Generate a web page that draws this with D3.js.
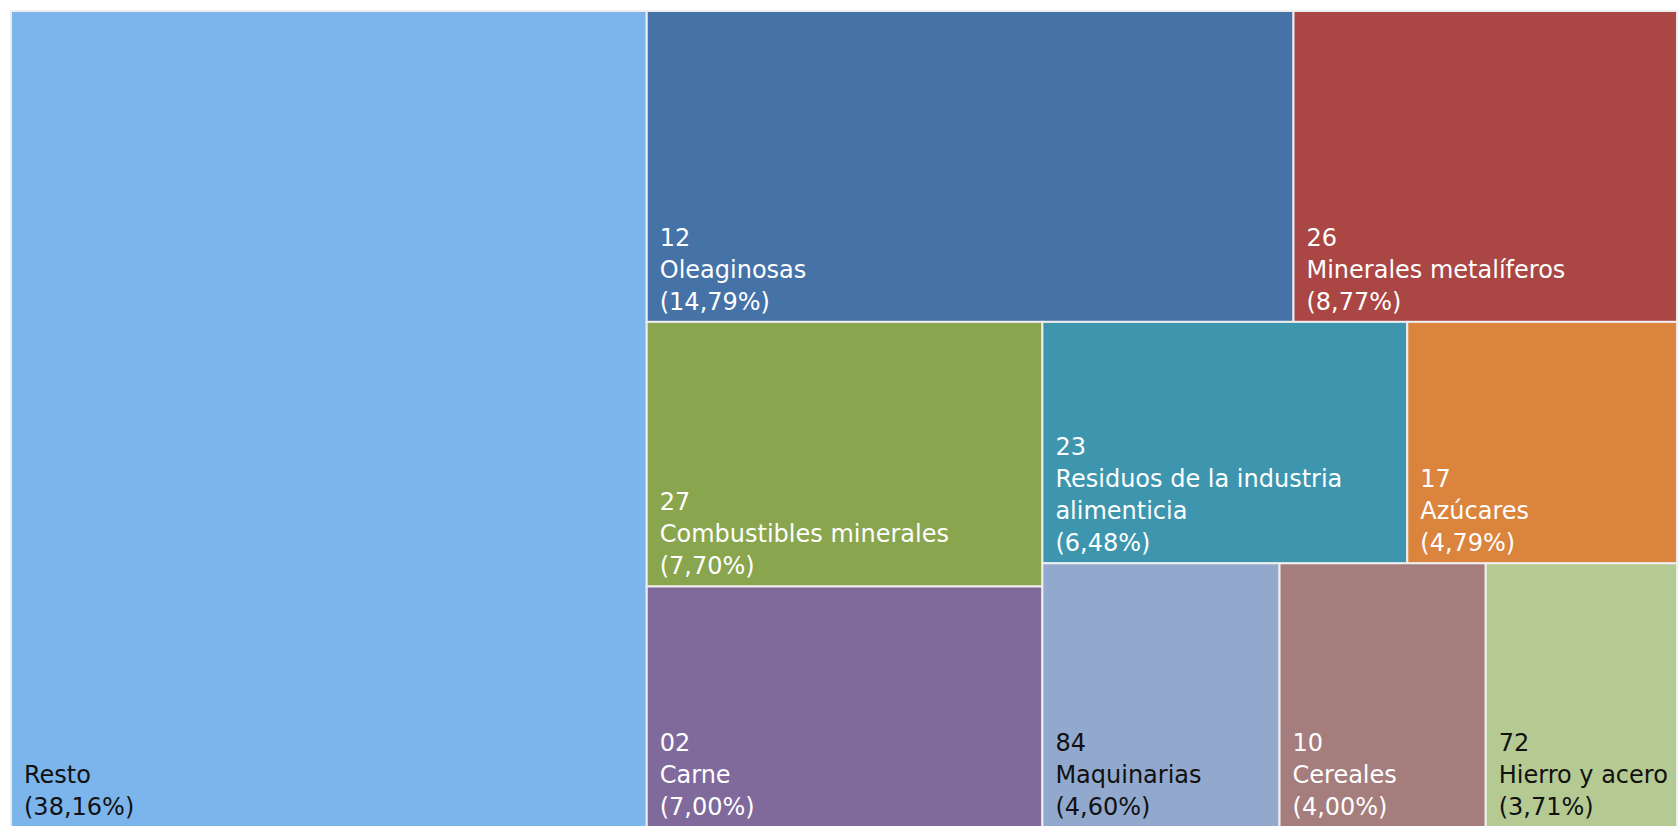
<!DOCTYPE html>
<html>
<head>
<meta charset="utf-8">
<script src="https://cdn.jsdelivr.net/npm/d3@7"></script>
<style>
  html, body { margin: 0; padding: 0; background: #fff; }
  svg { display: block; }
  text { font-family: "DejaVu Sans", sans-serif; }
</style>
</head>
<body>
<div id="chart"></div>
<script>
// datos del gráfico
const codes  = ["", "12", "26", "27", "02", "23", "17", "84", "10", "72"];
const names  = ["Resto", "Oleaginosas", "Minerales metalíferos", "Combustibles minerales", "Carne",
                "Residuos de la industria alimenticia", "Azúcares", "Maquinarias", "Cereales", "Hierro y acero"];
const shares = [38.16, 14.79, 8.77, 7.70, 7.00, 6.48, 4.79, 4.60, 4.00, 3.71];
const colors = ["#7cb5ec", "#4572a7", "#aa4643", "#89a54e", "#80699b",
                "#3d96ae", "#db843d", "#92a8cd", "#a47d7c", "#b5ca92"];

const width = 1680, height = 826;
const fontSize = 24, lineH = 32, padX = 13, padBottom = 12;

const svg = d3.select("#chart")
              .append("svg")
              .attr("width", width)
              .attr("height", height);

// el treemap original era más estrecho; se calcula en 1.5:1 y se estira en x
const root = d3.hierarchy({children: names.map((n, i) => ({i}))})
               .sum(d => d.i === undefined ? 0 : shares[d.i]);

d3.treemap()
  .tile(d3.treemapSquarify.ratio(1))
  .size([1.5, 1])(root);

const x = d3.scaleLinear().domain([0, 1.5]).range([11, 1677]);
const y = d3.scaleLinear().domain([0, 1]).range([11, 827]);

const cells = svg.selectAll("g.cell")
                 .data(root.leaves())
                 .enter()
                 .append("g")
                 .attr("class", "cell");

cells.append("rect")
     .attr("x", d => x(d.x0))
     .attr("y", d => y(d.y0))
     .attr("width", d => x(d.x1) - x(d.x0))
     .attr("height", d => y(d.y1) - y(d.y0))
     .attr("fill", d => colors[d.data.i])
     .attr("stroke", "#eeeeee")
     .attr("stroke-width", 2);

// etiquetas abajo a la izquierda
cells.each(function(d) {
    const g = d3.select(this);
    const i = d.data.i;
    const fill = d3.lab(colors[i]).l > 66 ? "#111111" : "#ffffff";
    const maxW = x(d.x1) - x(d.x0) - padX;

    // partir el nombre en líneas según el ancho
    const probe = g.append("text").attr("font-size", fontSize);
    const words = names[i].split(" ");
    const nameLines = [];
    let cur = "";
    words.forEach(w => {
        const test = cur ? cur + " " + w : w;
        probe.text(test);
        if (cur && probe.node().getComputedTextLength() > maxW) {
            nameLines.push(cur);
            cur = w;
        } else {
            cur = test;
        }
    });
    nameLines.push(cur);
    probe.remove();

    const lines = [];
    if (codes[i]) lines.push(codes[i]);
    nameLines.forEach(l => lines.push(l));
    lines.push("(" + shares[i].toFixed(2).replace(".", ",") + "%)");

    const lastY = y(d.y1) - padBottom;
    g.selectAll("text.lbl")
     .data(lines)
     .enter()
     .append("text")
     .attr("class", "lbl")
     .attr("x", x(d.x0) + padX)
     .attr("y", (t, k) => lastY - (lines.length - 1 - k) * lineH)
     .attr("font-size", fontSize)
     .attr("fill", fill)
     .text(t => t);
});
</script>
</body>
</html>
